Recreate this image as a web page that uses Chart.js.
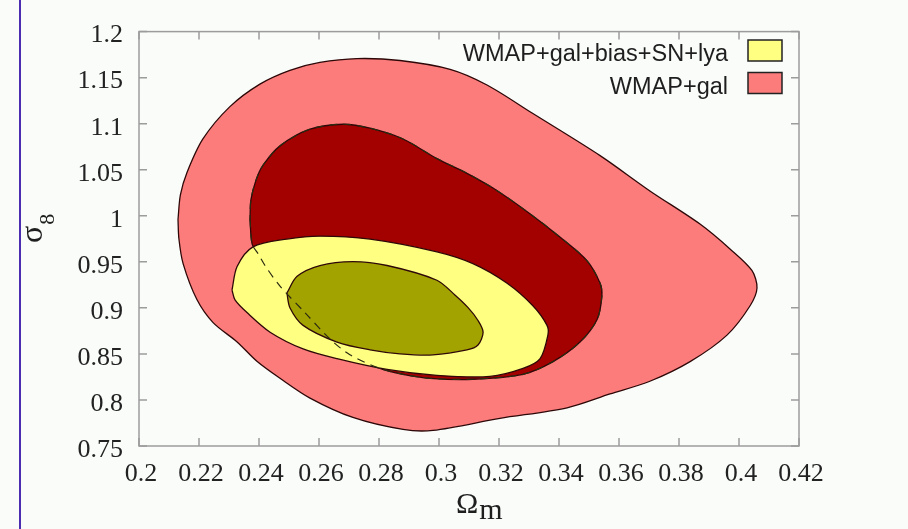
<!DOCTYPE html>
<html>
<head>
<meta charset="utf-8">
<script src="https://cdn.jsdelivr.net/npm/chart.js@4.4.0/dist/chart.umd.min.js"></script>
<style>
  html, body { margin: 0; padding: 0; background: #f9fcf9; }
  #wrap { position: relative; width: 908px; height: 529px; }
  #edge { position: absolute; left: 19px; top: 0; width: 2px; height: 529px; background: #4a2db0; }
  canvas { position: absolute; left: 0; top: 0; }
</style>
</head>
<body>
<div id="wrap">
  <div id="edge"></div>
  <canvas id="contours" width="908" height="529"></canvas>
</div>
<script>
// axis ticks
var omTicks = [0.2, 0.22, 0.24, 0.26, 0.28, 0.3, 0.32, 0.34, 0.36, 0.38, 0.4, 0.42];
var omLabels = ['0.2', '0.22', '0.24', '0.26', '0.28', '0.3', '0.32', '0.34', '0.36', '0.38', '0.4', '0.42'];
var s8Ticks = [0.75, 0.8, 0.85, 0.9, 0.95, 1, 1.05, 1.1, 1.15, 1.2];
var s8Labels = ['0.75', '0.8', '0.85', '0.9', '0.95', '1', '1.05', '1.1', '1.15', '1.2'];

var legendLabels = ['WMAP+gal+bias+SN+lya', 'WMAP+gal'];

// WMAP+gal, outer contour (2 sigma)
var galOuterOm = [0.213, 0.2133, 0.2147, 0.2193, 0.2247, 0.2327, 0.2393, 0.247, 0.257, 0.2713, 0.288, 0.298,
  0.3203, 0.3427, 0.357, 0.3703, 0.3837, 0.396, 0.4037, 0.406, 0.4043, 0.397, 0.387, 0.3703, 0.3537,
  0.3313, 0.316, 0.3037, 0.287, 0.2727, 0.2603, 0.2503, 0.2403, 0.2303, 0.2213, 0.216, 0.2138, 0.213];
var galOuterS8 = [0.996, 0.975, 0.948, 0.909, 0.884, 0.863, 0.842, 0.8235, 0.802, 0.781, 0.768, 0.767,
  0.78, 0.7915, 0.8065, 0.8203, 0.8416, 0.8704, 0.9023, 0.9215, 0.9406, 0.964, 0.991, 1.027, 1.0653,
  1.111, 1.142, 1.159, 1.1686, 1.1707, 1.1665, 1.158, 1.143, 1.1185, 1.0834, 1.047, 1.0227, 0.996];

// WMAP+gal, inner contour (1 sigma)
var galInnerOm = [0.237, 0.2377, 0.2397, 0.242, 0.247, 0.2553, 0.2637, 0.2703, 0.2803, 0.288, 0.297, 0.3113,
  0.328, 0.338, 0.347, 0.3527, 0.3543, 0.3537, 0.3493, 0.3403, 0.3293, 0.318, 0.3087, 0.2993, 0.288,
  0.277, 0.268, 0.257, 0.247, 0.2413, 0.239, 0.2373, 0.237];
var galInnerS8 = [0.996, 0.9694, 0.9588, 0.946, 0.9236, 0.8949, 0.8661, 0.8491, 0.8342, 0.8278, 0.8235, 0.8225,
  0.8278, 0.8416, 0.8629, 0.8874, 0.913, 0.9268, 0.9513, 0.9769, 1.0046, 1.0301, 1.0472, 1.0621, 1.0834,
  1.0951, 1.0994, 1.094, 1.0759, 1.0546, 1.0387, 1.0173, 0.996];

// WMAP+gal+bias+SN+lya, outer contour (2 sigma)
var allOuterOm = [0.231, 0.232, 0.236, 0.2437, 0.2547, 0.266, 0.2827, 0.2993, 0.317, 0.328, 0.3337, 0.3363,
  0.336, 0.3313, 0.3227, 0.3113, 0.2993, 0.277, 0.2603, 0.2493, 0.238, 0.2327, 0.231];
var allOuterS8 = [0.9194, 0.9087, 0.8949, 0.8736, 0.8554, 0.8448, 0.8331, 0.8267, 0.8256, 0.8342, 0.8448, 0.8704,
  0.881, 0.9023, 0.9268, 0.9481, 0.9609, 0.9747, 0.9779, 0.9747, 0.9662, 0.9449, 0.9194];

// WMAP+gal+bias+SN+lya, inner contour (1 sigma)
var allInnerOm = [0.2493, 0.2503, 0.2547, 0.266, 0.277, 0.287, 0.298, 0.3093, 0.313, 0.3147, 0.313, 0.3097,
  0.3053, 0.2993, 0.2827, 0.2713, 0.2603, 0.2527, 0.2493];
var allInnerS8 = [0.9162, 0.9002, 0.881, 0.8629, 0.8544, 0.8501, 0.849, 0.8544, 0.8597, 0.8736, 0.8863, 0.9002,
  0.914, 0.93, 0.946, 0.9502, 0.946, 0.9343, 0.9162];

var pink = '#fc7b7b';
var darkRed = '#a30000';
var yellow = '#ffff82';
var olive = '#a3a300';
var edgeColor = '#2e0808';

function toPoints(xs, ys) {
  return xs.map(function(x, i) { return { x: x, y: ys[i] }; });
}

function contour(xs, ys, fillColor, order) {
  return {
    data: toPoints(xs, ys),
    backgroundColor: fillColor,
    borderColor: edgeColor,
    borderWidth: 1.3,
    fill: 'shape',
    tension: 0.3,
    pointRadius: 0,
    order: order
  };
}

// frame, inward ticks, axis titles and legend
var framePlugin = {
  id: 'frame',
  afterDatasetsDraw: function(chart) {
    var ctx = chart.ctx, a = chart.chartArea;
    var sx = chart.scales.x, sy = chart.scales.y;
    ctx.save();
    ctx.strokeStyle = '#9c9c9c';
    ctx.lineWidth = 1.5;
    ctx.strokeRect(a.left, a.top, a.right - a.left, a.bottom - a.top);
    ctx.beginPath();
    sx.ticks.forEach(function(t) {
      var px = sx.getPixelForValue(t.value);
      ctx.moveTo(px, a.bottom); ctx.lineTo(px, a.bottom - 8);
      ctx.moveTo(px, a.top); ctx.lineTo(px, a.top + 8);
    });
    sy.ticks.forEach(function(t) {
      var py = sy.getPixelForValue(t.value);
      ctx.moveTo(a.left, py); ctx.lineTo(a.left + 8, py);
      ctx.moveTo(a.right, py); ctx.lineTo(a.right - 8, py);
    });
    ctx.stroke();
    ctx.restore();
  },
  afterDraw: function(chart) {
    var ctx = chart.ctx, a = chart.chartArea;
    ctx.save();
    ctx.fillStyle = '#1e1e1e';

    // x title: Omega_m
    ctx.font = '30px "Liberation Serif"';
    ctx.textBaseline = 'alphabetic';
    ctx.textAlign = 'left';
    var wOm = ctx.measureText('\u03A9').width;
    ctx.fillText('\u03A9', 456, 513);
    ctx.fillText('m', 456 + wOm + 1, 519);

    // y title: sigma_8
    ctx.translate(42, 243);
    ctx.rotate(-Math.PI / 2);
    ctx.font = '32px "Liberation Serif"';
    var wSig = ctx.measureText('\u03C3').width;
    ctx.fillText('\u03C3', 0, 0);
    ctx.font = '22px "Liberation Serif"';
    ctx.fillText('8', wSig + 1, 12);
    ctx.setTransform(1, 0, 0, 1, 0, 0);

    // legend
    var colors = [yellow, pink];
    ctx.font = '23.5px "Liberation Sans"';
    ctx.textAlign = 'right';
    for (var i = 0; i < legendLabels.length; i++) {
      var by = 40 + i * 32.5;
      var bx = a.right - 17 - 34;
      ctx.fillStyle = colors[i];
      ctx.fillRect(bx, by, 34, 21);
      ctx.strokeStyle = '#222';
      ctx.lineWidth = 1.5;
      ctx.strokeRect(bx, by, 34, 21);
      ctx.fillStyle = '#1e1e1e';
      ctx.fillText(legendLabels[i], bx - 20, by + 21);
    }
    ctx.restore();
  }
};

var tickFont = { family: '"Liberation Serif"', size: 26 };

var chart = new Chart(document.getElementById('contours').getContext('2d'), {
  type: 'line',
  data: {
    datasets: [
      // dashed outline of the inner WMAP+gal contour, drawn on top
      {
        data: toPoints(galInnerOm, galInnerS8),
        borderColor: '#2b2b12',
        borderWidth: 1.2,
        borderDash: [8, 6],
        fill: false,
        tension: 0.3,
        pointRadius: 0,
        order: 0
      },
      contour(allInnerOm, allInnerS8, olive, 1),
      contour(allOuterOm, allOuterS8, yellow, 2),
      contour(galInnerOm, galInnerS8, darkRed, 3),
      contour(galOuterOm, galOuterS8, pink, 4)
    ]
  },
  options: {
    responsive: false,
    animation: false,
    layout: { padding: { top: 23, right: 109, left: 0, bottom: 0 } },
    plugins: { legend: { display: false }, tooltip: { enabled: false } },
    scales: {
      x: {
        type: 'linear',
        min: 0.2,
        max: 0.42,
        afterBuildTicks: function(s) { s.ticks = omTicks.map(function(v) { return { value: v }; }); },
        afterFit: function(s) { s.height = 83; },
        grid: { display: false, drawTicks: false },
        border: { display: false },
        ticks: {
          autoSkip: false,
          maxRotation: 0,
          padding: 13,
          labelOffset: 2,
          color: '#222',
          font: tickFont,
          callback: function(v, i) { return omLabels[i]; }
        }
      },
      y: {
        type: 'linear',
        min: 0.75,
        max: 1.2,
        afterBuildTicks: function(s) { s.ticks = s8Ticks.map(function(v) { return { value: v }; }); },
        afterFit: function(s) { s.width = 139; },
        grid: { display: false, drawTicks: false },
        border: { display: false },
        ticks: {
          autoSkip: false,
          padding: 16,
          labelOffset: 4,
          color: '#222',
          font: tickFont,
          callback: function(v, i) { return s8Labels[i]; }
        }
      }
    }
  },
  plugins: [framePlugin]
});
</script>
</body>
</html>
